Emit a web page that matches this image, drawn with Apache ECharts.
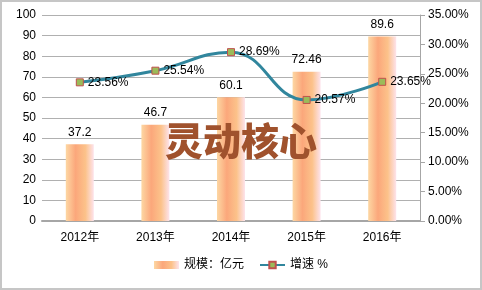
<!DOCTYPE html>
<html><head><meta charset="utf-8">
<script src="https://cdn.jsdelivr.net/npm/echarts@6/dist/echarts.min.js"></script>
<style>
html,body{margin:0;padding:0;background:#fff;}
#wrap{width:482px;height:290px;box-sizing:border-box;border:2px solid #c6c6c6;position:relative;overflow:hidden;}
#c{position:absolute;left:-2px;top:-2px;width:482px;height:290px;}
</style></head>
<body><div id="wrap"><div id="c"></div></div>
<script>
const categories = ['2012年','2013年','2014年','2015年','2016年'];
const scaleValues = [37.2, 46.7, 60.1, 72.46, 89.6];
const growthValues = [23.56, 25.54, 28.69, 20.57, 23.65];
const leftTicks = {min:0, max:100, interval:10};
const rightTicks = {min:0, max:35, interval:5};
const seriesNames = ['规模：亿元', '增速 %'];
const watermark = '灵动核心';

const font = '"Liberation Sans", "Noto Sans CJK SC", sans-serif';
const barGrad = new echarts.graphic.LinearGradient(0, 0, 1, 0, [
  {offset:0, color:'#fdd7a3'},
  {offset:0.35, color:'#fba77b'},
  {offset:0.7, color:'#fcc28a'},
  {offset:1, color:'#fde3ec'}
]);
const chart = echarts.init(document.getElementById('c'), null, {renderer:'canvas'});
chart.setOption({
  animation:false,
  textStyle:{fontFamily:font},
  grid:{left:42, right:62, top:15, bottom:69, containLabel:false},
  legend:{
    bottom:14, left:'center', itemGap:15, itemWidth:25, itemHeight:8,
    textStyle:{fontFamily:font, fontSize:12, color:'#000'},
    data:[{name:seriesNames[0], icon:'rect'}, {name:seriesNames[1]}]
  },
  graphic:[{
    type:'text', left:'center', top:122, z:100,
    style:{text:watermark, fill:'#a0522d', font:'900 38px "Noto Sans CJK SC"', textAlign:'center'}
  }],
  xAxis:{
    type:'category', data:categories,
    axisLine:{show:true, lineStyle:{color:'#a6a6a6', width:2}},
    axisTick:{show:false},
    axisLabel:{color:'#000', fontSize:12, margin:11, fontFamily:font}
  },
  yAxis:[{
    type:'value', min:leftTicks.min, max:leftTicks.max, interval:leftTicks.interval,
    axisLine:{show:false}, axisTick:{show:false},
    axisLabel:{color:'#000', fontSize:12, margin:6, fontFamily:font},
    splitLine:{lineStyle:{color:'#b0b0b0', width:1}}
  },{
    type:'value', min:rightTicks.min, max:rightTicks.max, interval:rightTicks.interval,
    axisLine:{show:true, lineStyle:{color:'#a6a6a6', width:1}},
    axisTick:{show:true, length:5, lineStyle:{color:'#a6a6a6'}},
    axisLabel:{color:'#000', fontSize:12, margin:8, fontFamily:font, formatter:v=>v.toFixed(2)+'%'},
    splitLine:{show:false}
  }],
  series:[{
    name:seriesNames[0], type:'bar', data:scaleValues, barWidth:28,
    itemStyle:{color:barGrad},
    label:{show:true, position:'top', color:'#000', fontSize:12, fontFamily:font, distance:6}
  },{
    name:seriesNames[1], type:'line', yAxisIndex:1, data:growthValues, smooth:0.45,
    symbol:'rect', symbolSize:7,
    lineStyle:{color:'#31869d', width:3},
    itemStyle:{color:'#9bbb59', borderColor:'#c0504d', borderWidth:1},
    label:{show:true, position:'right', color:'#000', fontSize:12, fontFamily:font, distance:4,
      formatter:p=>p.value.toFixed(2)+'%'},
    z:5
  }]
});
</script></body></html>
